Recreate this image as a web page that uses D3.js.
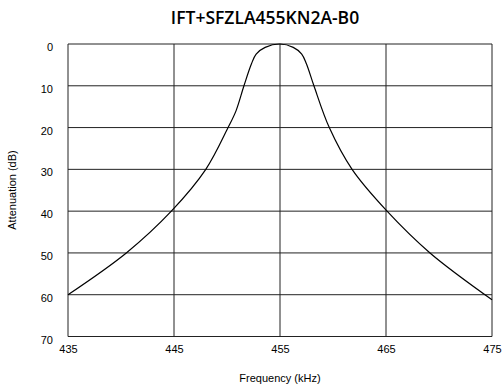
<!DOCTYPE html>
<html>
<head>
<meta charset="utf-8">
<script src="https://cdn.jsdelivr.net/npm/d3@7"></script>
<style>
  html, body { margin: 0; padding: 0; background: #fff; }
  svg { display: block; }
</style>
</head>
<body>
<svg id="chart" width="503" height="386"></svg>
<script>
const title = "IFT+SFZLA455KN2A-B0";
const xTicks = [435, 445, 455, 465, 475];
const yTicks = [0, 10, 20, 30, 40, 50, 60, 70];
const frequency = [435, 440.5, 444.75, 448.0, 450.1, 450.85, 451.6, 452.3, 452.75, 453.6, 455, 456.25, 457.05, 457.5, 458.2, 459.65, 461.8, 465.1, 469.15, 475];
const attenuation = [60, 50, 40, 30, 20, 16, 10, 4.8, 2.4, 0.8, 0, 0.8, 2.4, 4.8, 10, 20, 30, 40, 50, 61.2];

const svg = d3.select("#chart");
const x = d3.scaleLinear().domain([435, 475]).range([68, 492]);
const y = d3.scaleLinear().domain([0, 70]).range([44, 336.5]);

// grid
svg.append("g").selectAll("line").data(yTicks).join("line")
  .attr("x1", x(435)).attr("x2", x(475))
  .attr("y1", d => y(d)).attr("y2", d => y(d))
  .attr("stroke", "#222").attr("stroke-width", 1);
svg.append("g").selectAll("line").data(xTicks).join("line")
  .attr("y1", y(0)).attr("y2", y(70))
  .attr("x1", d => x(d)).attr("x2", d => x(d))
  .attr("stroke", "#222").attr("stroke-width", 1);

const xAxis = svg.append("g").attr("transform", `translate(0,${y(70) + 9})`)
  .call(d3.axisBottom(x).tickValues(xTicks).tickSize(0).tickPadding(0).tickFormat(d3.format("d")));
xAxis.select(".domain").remove();
xAxis.selectAll("text").attr("font-family", "Liberation Sans, Arial, sans-serif").attr("font-size", 11).attr("fill", "#000");

const yAxis = svg.append("g").attr("transform", `translate(53,3)`)
  .call(d3.axisLeft(y).tickValues(yTicks).tickSize(0).tickPadding(0).tickFormat(d3.format("d")));
yAxis.select(".domain").remove();
yAxis.selectAll("text").attr("font-family", "Liberation Sans, Arial, sans-serif").attr("font-size", 11).attr("fill", "#000");

// curve
const line = d3.line().x((d, i) => x(frequency[i])).y(d => y(d)).curve(d3.curveCatmullRom.alpha(0.5));
svg.append("path").datum(attenuation).attr("d", line)
  .attr("fill", "none").attr("stroke", "#000").attr("stroke-width", 1.2);

// titles
svg.append("text").attr("x", 265).attr("y", 24).attr("text-anchor", "middle")
  .attr("font-family", "Open Sans, sans-serif").attr("font-weight", 600).attr("font-size", 17.5)
  .text(title);
svg.append("text").attr("x", 280).attr("y", 382).attr("text-anchor", "middle")
  .attr("font-family", "Liberation Sans, Arial, sans-serif").attr("font-size", 11)
  .text("Frequency (kHz)");
svg.append("text").attr("transform", "translate(16,190) rotate(-90)").attr("text-anchor", "middle")
  .attr("font-family", "Liberation Sans, Arial, sans-serif").attr("font-size", 11)
  .text("Attenuation (dB)");
</script>
</body>
</html>
